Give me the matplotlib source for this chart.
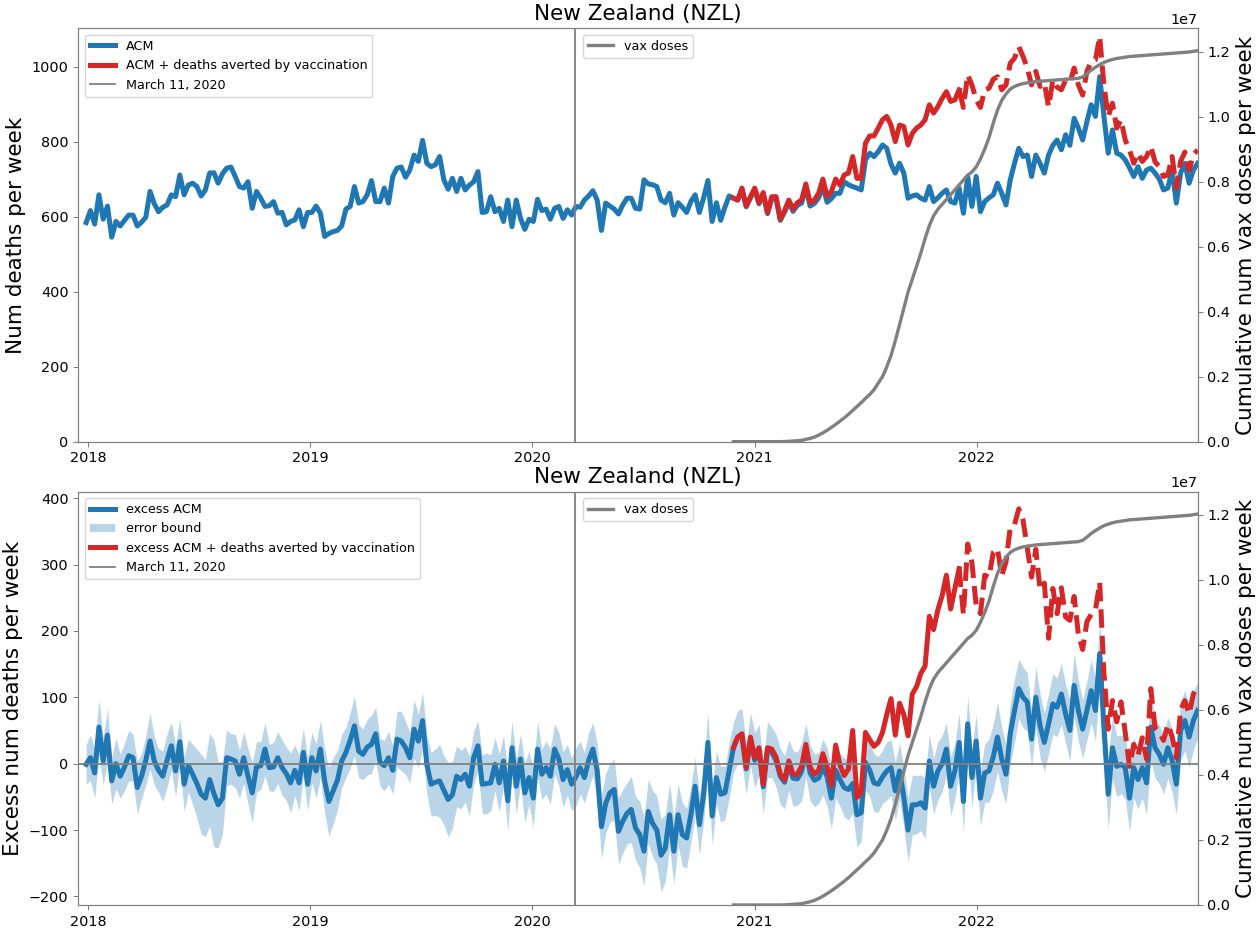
import numpy as np
import pandas as pd
import matplotlib
matplotlib.use('Agg')
import matplotlib.pyplot as plt
import matplotlib.dates as mdates

# weekly all-cause mortality, New Zealand (first week ends 2017-12-29)
acm = [584, 616, 580, 658, 593, 628, 545, 587, 575, 590,
       604, 604, 575, 585, 598, 667, 634, 613, 625, 631,
       658, 653, 711, 658, 684, 689, 680, 655, 671, 716,
       717, 689, 714, 729, 732, 707, 680, 676, 693, 622,
       667, 649, 627, 629, 640, 609, 611, 578, 587, 591,
       618, 573, 611, 611, 628, 609, 547, 555, 560, 563,
       575, 620, 627, 680, 636, 640, 658, 696, 640, 640,
       676, 636, 707, 729, 732, 705, 724, 764, 747, 803,
       742, 733, 738, 760, 698, 673, 702, 667, 702, 671,
       684, 693, 720, 611, 613, 653, 613, 622, 587, 644,
       573, 644, 595, 566, 593, 587, 646, 616, 620, 593,
       622, 627, 595, 618, 604, 627, 625, 644, 655, 669,
       644, 563, 636, 628, 620, 607, 631, 649, 649, 622,
       620, 698, 687, 685, 680, 644, 637, 662, 604, 637,
       625, 611, 640, 658, 611, 650, 696, 587, 637, 590,
       625, 655, 649, 644, 672, 626, 650, 672, 634, 660,
       608, 648, 648, 590, 612, 638, 614, 630, 636, 678,
       628, 635, 650, 680, 638, 648, 662, 662, 693, 685,
       680, 676, 671, 751, 769, 760, 773, 791, 782, 740,
       716, 742, 716, 649, 655, 658, 649, 644, 680, 640,
       650, 662, 671, 640, 636, 676, 609, 707, 627, 707,
       613, 640, 650, 658, 689, 662, 631, 698, 742, 782,
       760, 764, 707, 764, 742, 716, 764, 790, 804, 778,
       818, 790, 862, 836, 804, 853, 898, 867, 973, 867,
       769, 831, 769, 764, 751, 730, 707, 733, 702, 724,
       729, 716, 700, 671, 676, 724, 636, 716, 742, 689,
       724, 742]

excess = [-1, 9, -14, 55, 4, 43, -26, 0, -19, -5,
          12, 9, -36, -19, 5, 34, 4, -10, -19, 5,
          27, -11, 33, -31, -3, -16, -30, -46, -52, -24,
          -45, -62, -52, 9, 7, 4, -16, 9, -19, -44,
          -5, -3, 22, -6, -5, 9, -6, -15, -29, -10,
          -29, 17, -31, 9, -11, 22, -26, -57, -41, -25,
          4, 17, 35, 57, 19, 14, 25, 29, 45, 2,
          -3, 9, -10, 37, 34, 24, 9, 52, 34, 65,
          -1, -31, -28, -26, -40, -54, -47, -19, -24, -16,
          -34, 9, 27, -31, -30, -29, -1, -29, 4, -56,
          24, -34, 7, -44, -21, -52, 22, -16, -6, -19,
          22, 7, -24, -9, -31, -20, -6, -21, 5, 22,
          -11, -95, -60, -44, -39, -102, -87, -75, -69, -97,
          -107, -132, -72, -90, -100, -138, -127, -77, -132, -77,
          -107, -112, -77, -34, -92, -46, 32, -79, -21, -46,
          -44, -10, 24, 40, 41, -8, 37, 5, 21, -35,
          21, 17, 5, -19, -28, -2, -22, -23, -12, 20,
          -14, -25, -22, -5, -20, -52, -10, -24, -36, -39,
          -30, -77, -74, 2, -10, -29, -31, -20, -11, -6,
          -41, -11, -50, -100, -62, -62, -59, -67, 4, -34,
          -11, 0, 22, -34, -11, 32, -57, 60, -21, 34,
          -52, -14, -11, 10, 40, 7, -16, 45, 80, 113,
          100, 93, 37, 100, 57, 32, 60, 90, 85, 105,
          75, 50, 118, 80, 52, 80, 110, 80, 166, 54,
          -46, 24, -4, -1, -6, -52, -6, -24, -6, -29,
          55, 24, 14, -1, 24, 5, -31, 50, 65, 40,
          65, 80]

# half width of the error bound on excess deaths
err = [30, 34, 38, 42, 36, 40, 35, 38, 33, 36,
       38, 35, 40, 34, 37, 42, 36, 33, 38, 40,
       36, 39, 35, 42, 40, 45, 52, 60, 58, 70,
       80, 65, 55, 42, 38, 40, 36, 39, 42, 45,
       38, 36, 40, 35, 37, 39, 42, 40, 45, 38,
       42, 36, 40, 38, 41, 44, 48, 52, 50, 45,
       40, 38, 42, 45, 40, 38, 42, 44, 40, 36,
       38, 40, 36, 42, 45, 40, 38, 44, 40, 42,
       45, 48, 50, 55, 52, 56, 50, 46, 44, 42,
       45, 40, 38, 44, 46, 42, 40, 44, 38, 46,
       40, 42, 38, 45, 40, 44, 42, 38, 40, 42,
       38, 40, 42, 38, 40, 44, 40, 38, 42, 40,
       42, 48, 45, 44, 46, 50, 48, 46, 50, 48,
       50, 52, 48, 50, 52, 55, 50, 48, 50, 46,
       48, 45, 42, 44, 46, 42, 45, 44, 40, 42,
       40, 42, 38, 40, 42, 38, 40, 42, 38, 40,
       42, 38, 40, 42, 40, 38, 42, 40, 44, 40,
       42, 40, 38, 42, 44, 46, 42, 40, 44, 46,
       45, 48, 44, 42, 40, 44, 42, 40, 44, 42,
       44, 42, 46, 48, 45, 44, 42, 46, 40, 42,
       44, 42, 40, 45, 42, 44, 46, 42, 44, 40,
       42, 44, 48, 50, 52, 48, 44, 46, 48, 45,
       46, 44, 42, 46, 48, 44, 45, 46, 44, 46,
       44, 46, 48, 46, 44, 45, 48, 46, 48, 50,
       52, 48, 46, 44, 48, 50, 46, 44, 46, 48,
       50, 46, 44, 45, 46, 48, 46, 44, 46, 45,
       44, 42]

# deaths averted by vaccination, from week 152 (2020-11-27) on
averted = [0, 0, 4, 2, 3, 4, 3, 4, 3, 5,
           5, 3, 4, 6, 6, 7, 8, 9, 9, 9,
           12, 20, 15, 19, 38, 22, 18, 31, 80, 26,
           31, 45, 46, 55, 63, 67, 85, 104, 84, 102,
           124, 142, 167, 178, 195, 214, 218, 236, 243, 253,
           262, 267, 275, 262, 282, 271, 324, 204, 278, 298,
           292, 308, 284, 276, 320, 311, 280, 271, 267, 232,
           244, 223, 205, 240, 129, 174, 141, 160, 146, 166,
           134, 115, 120, 134, 115, 151, 107, 83, 98, 71,
           67, 94, 53, 48, 35, 36, 45, 36, 58, 30,
           33, 36, 35, 36, 40, 31, 30, 35, 40, 36]

# cumulative vaccine doses (millions), same weeks as averted
vax_m = [0, 0, 0, 0, 0, 0, 0, 0, 0, 0,
         0, 0, 0.005, 0.01, 0.02, 0.03, 0.04, 0.07, 0.10, 0.14,
         0.20, 0.27, 0.35, 0.44, 0.53, 0.63, 0.73, 0.84, 0.96, 1.08,
         1.20, 1.33, 1.45, 1.60, 1.80, 2.00, 2.30, 2.65, 3.10, 3.60,
         4.10, 4.60, 5.00, 5.40, 5.80, 6.25, 6.65, 6.95, 7.15, 7.30,
         7.45, 7.60, 7.75, 7.90, 8.05, 8.20, 8.30, 8.45, 8.70, 9.00,
         9.35, 9.80, 10.20, 10.50, 10.70, 10.85, 10.93, 10.98, 11.02, 11.04,
         11.06, 11.08, 11.09, 11.10, 11.11, 11.12, 11.13, 11.14, 11.15, 11.16,
         11.17, 11.18, 11.22, 11.32, 11.43, 11.52, 11.60, 11.67, 11.72, 11.76,
         11.79, 11.81, 11.83, 11.85, 11.86, 11.87, 11.88, 11.89, 11.90, 11.91,
         11.92, 11.93, 11.94, 11.95, 11.96, 11.97, 11.98, 11.99, 12.01, 12.03]

start = '2017-12-29'
vax_start = 152   # first week of the vaccination series
dash_start = 205  # averted line is dashed from here on
who_date = '2020-03-11'

dates = pd.date_range(start, periods=len(acm), freq='7D')
acm = np.array(acm)
excess = np.array(excess)
err = np.array(err)
averted = np.array(averted)
vax = np.array(vax_m) * 1e6
vdates = dates[vax_start:]
i_dash = dash_start - vax_start

blue = '#1f77b4'
red = '#d62728'
lw = 3.6

fig = plt.figure(figsize=(12.6, 9.3), dpi=100)
ax1 = fig.add_axes([0.0621, 0.5251, 0.8884, 0.4445])
ax2 = fig.add_axes([0.0621, 0.0269, 0.8884, 0.4445])


def finish(ax, ylabel):
    ax.set_title('New Zealand (NZL)', fontsize=15.5)
    ax.set_ylabel(ylabel, fontsize=15.5)
    ax.tick_params(labelsize=10.4, color='gray')
    for s in ax.spines.values():
        s.set_color('gray')
    ax.xaxis.set_major_locator(mdates.YearLocator())
    ax.xaxis.set_major_formatter(mdates.DateFormatter('%Y'))
    ax.set_xlim(dates[0] - pd.Timedelta(days=13), dates[-1])
    ax.legend(loc='upper left', fontsize=9.2)

    axr = ax.twinx()
    axr.plot(vdates, vax, color='gray', lw=2.4, label='vax doses')
    axr.set_ylim(0, 1.272e7)
    axr.set_ylabel('Cumulative num vax doses per week', fontsize=15.5)
    axr.tick_params(labelsize=10.4, color='gray')
    axr.yaxis.get_offset_text().set_fontsize(10.4)
    for s in axr.spines.values():
        s.set_color('gray')
    axr.legend(loc='upper center', fontsize=9.2)


# top: ACM
red_top = acm[vax_start:] + averted
ax1.plot(dates, acm, color=blue, lw=lw, label='ACM')
ax1.plot(vdates[:i_dash + 1], red_top[:i_dash + 1], color=red, lw=lw,
         label='ACM + deaths averted by vaccination')
ax1.plot(vdates[i_dash:], red_top[i_dash:], color=red, lw=lw, ls='--')
ax1.axvline(pd.Timestamp(who_date), color='gray', lw=1.3, label='March 11, 2020')
ax1.set_ylim(0, 1102)
finish(ax1, 'Num deaths per week')

# bottom: excess ACM
red_exc = excess[vax_start:] + averted
ax2.plot(dates, excess, color=blue, lw=lw, label='excess ACM')
ax2.fill_between(dates, excess - err, excess + err, color=blue, alpha=0.3,
                 lw=0, label='error bound')
ax2.plot(vdates[:i_dash + 1], red_exc[:i_dash + 1], color=red, lw=lw,
         label='excess ACM + deaths averted by vaccination')
ax2.plot(vdates[i_dash:], red_exc[i_dash:], color=red, lw=lw, ls='--')
ax2.axvline(pd.Timestamp(who_date), color='gray', lw=1.3, label='March 11, 2020')
ax2.axhline(0, color='gray', lw=1.3)
ax2.set_ylim(-213, 410)
finish(ax2, 'Excess num deaths per week')

fig.savefig('out.png', dpi=100)
